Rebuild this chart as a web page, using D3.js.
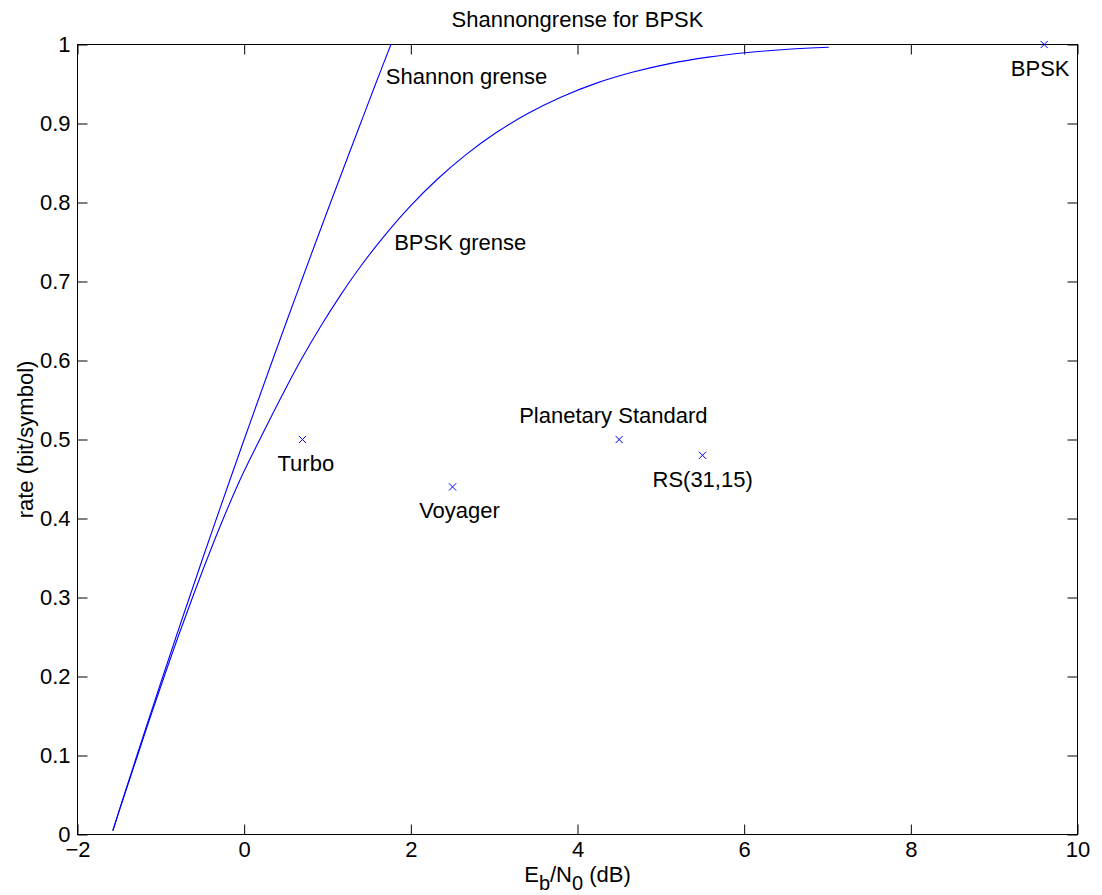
<!DOCTYPE html>
<html>
<head>
<meta charset="utf-8">
<script src="https://cdn.jsdelivr.net/npm/d3@7"></script>
<style>
  html, body { margin: 0; padding: 0; background: #fff; }
  svg { display: block; }
  text { font-family: "Liberation Sans", Arial, Helvetica, sans-serif; fill: #000; }
</style>
</head>
<body>
<svg id="chart" width="1102" height="895"></svg>
<script>
// Shannon limit for a real-valued channel: rate (bit/symbol) vs Eb/N0 (dB)
const shannonRate = [0.005, 0.05, 0.1, 0.15, 0.2, 0.25, 0.3, 0.35, 0.4, 0.45, 0.5,
                     0.55, 0.6, 0.65, 0.7, 0.75, 0.8, 0.85, 0.9, 0.95, 1.0];
const shannonEbN0 = [-1.577, -1.440, -1.287, -1.132, -0.976, -0.818, -0.657, -0.496, -0.332, -0.167, 0.0,
                     0.169, 0.339, 0.511, 0.685, 0.860, 1.037, 1.216, 1.396, 1.577, 1.761];

// BPSK-constrained capacity curve
const bpskRate = [0.005, 0.05, 0.1, 0.15, 0.2, 0.25, 0.3, 0.35, 0.4, 0.45, 0.5,
                  0.5634, 0.6032, 0.6431, 0.6828, 0.7218, 0.7594, 0.7954, 0.8291, 0.8600,
                  0.8879, 0.9124, 0.9333, 0.9508, 0.9648, 0.9758, 0.9840, 0.9899, 0.9939, 0.9965];
const bpskEbN0 = [-1.575, -1.437, -1.279, -1.122, -0.960, -0.794, -0.620, -0.440, -0.250, -0.045, 0.187,
                  0.492, 0.695, 0.917, 1.157, 1.416, 1.695, 1.994, 2.314, 2.655,
                  3.017, 3.398, 3.800, 4.219, 4.656, 5.106, 5.570, 6.044, 6.527, 7.015];

// Operating points of real codes
const codeNames = ["Turbo", "Voyager", "Planetary Standard", "RS(31,15)", "BPSK"];
const codeEbN0  = [0.7, 2.5, 4.5, 5.5, 9.6];
const codeRate  = [0.5, 0.44, 0.5, 0.48, 1.0];
// Label anchors (left edge, vertical middle) in data units
const codeLabelX = [0.4, 2.1, 3.3, 4.9, 9.2];
const codeLabelY = [0.47, 0.41, 0.53, 0.45, 0.97];

// Curve annotations
const curveLabels = ["Shannon grense", "BPSK grense"];
const curveLabelX = [1.7, 1.8];
const curveLabelY = [0.96, 0.75];

const xTicks = [-2, 0, 2, 4, 6, 8, 10];
const yTicks = [0, 0.1, 0.2, 0.3, 0.4, 0.5, 0.6, 0.7, 0.8, 0.9, 1];

const titleText = "Shannongrense for BPSK";
const yLabelText = "rate (bit/symbol)";

const svg = d3.select("#chart");
const plotL = 77.5, plotR = 1077.5, plotT = 44.5, plotB = 834.5;
const FS = 22;
const BLUE = "#0000ff";

const x = d3.scaleLinear().domain([-2, 10]).range([plotL, plotR]);
const y = d3.scaleLinear().domain([0, 1]).range([plotB, plotT]);

const fmtX = d => (d < 0 ? "\u2212" + Math.abs(d) : String(d));
const fmtY = d => String(+d.toFixed(1));

// Axes with inward ticks on all four sides
const tickLen = 10;
svg.append("g").attr("transform", `translate(0,${plotB})`)
  .call(d3.axisBottom(x).tickValues(xTicks).tickFormat(fmtX).tickSizeInner(-tickLen).tickSizeOuter(0).tickPadding(7))
  .call(g => g.select(".domain").remove());
svg.append("g").attr("transform", `translate(0,${plotT})`)
  .call(d3.axisTop(x).tickValues(xTicks).tickFormat("").tickSizeInner(-tickLen).tickSizeOuter(0))
  .call(g => g.select(".domain").remove());
svg.append("g").attr("transform", `translate(${plotL},0)`)
  .call(d3.axisLeft(y).tickValues(yTicks).tickFormat(fmtY).tickSizeInner(-tickLen).tickSizeOuter(0).tickPadding(7))
  .call(g => g.select(".domain").remove());
svg.append("g").attr("transform", `translate(${plotR},0)`)
  .call(d3.axisRight(y).tickValues(yTicks).tickFormat("").tickSizeInner(-tickLen).tickSizeOuter(0))
  .call(g => g.select(".domain").remove());

svg.selectAll(".tick line").attr("stroke", "#000").attr("stroke-width", 1);
svg.selectAll(".tick text").attr("font-size", FS).attr("font-family", "Liberation Sans, Arial, sans-serif").attr("fill", "#000");

// Plot box
svg.append("rect")
  .attr("x", plotL).attr("y", plotT)
  .attr("width", plotR - plotL).attr("height", plotB - plotT)
  .attr("fill", "none").attr("stroke", "#000").attr("stroke-width", 1);

// Curves
const line = d3.line().x(d => x(d[0])).y(d => y(d[1])).curve(d3.curveCatmullRom.alpha(0.5));
const shannonPts = shannonRate.map((r, i) => [shannonEbN0[i], r]);
const bpskPts = bpskRate.map((r, i) => [bpskEbN0[i], r]);

svg.append("path").datum(shannonPts).attr("d", line)
  .attr("fill", "none").attr("stroke", BLUE).attr("stroke-width", 1.1);
svg.append("path").datum(bpskPts).attr("d", line)
  .attr("fill", "none").attr("stroke", BLUE).attr("stroke-width", 1.1);

// Code markers (x)
const m = 3.6;
const marks = svg.append("g");
codeNames.forEach((name, i) => {
  const cx = x(codeEbN0[i]), cy = y(codeRate[i]);
  marks.append("path")
    .attr("d", `M${cx - m},${cy - m}L${cx + m},${cy + m}M${cx - m},${cy + m}L${cx + m},${cy - m}`)
    .attr("stroke", BLUE).attr("stroke-width", 1).attr("fill", "none");
  marks.append("text")
    .attr("x", x(codeLabelX[i])).attr("y", y(codeLabelY[i]))
    .attr("dominant-baseline", "central")
    .attr("font-size", FS)
    .text(name);
});

// Curve annotations
curveLabels.forEach((t, i) => {
  svg.append("text")
    .attr("x", x(curveLabelX[i])).attr("y", y(curveLabelY[i]))
    .attr("dominant-baseline", "central")
    .attr("font-size", FS)
    .text(t);
});

// Title
svg.append("text")
  .attr("x", (plotL + plotR) / 2).attr("y", 27)
  .attr("text-anchor", "middle").attr("font-size", FS)
  .text(titleText);

// X label: E_b/N_0 (dB)
const xl = svg.append("text")
  .attr("x", (plotL + plotR) / 2).attr("y", 882)
  .attr("text-anchor", "middle").attr("font-size", FS);
xl.append("tspan").text("E");
xl.append("tspan").attr("dy", 8).attr("font-size", 20).text("b");
xl.append("tspan").attr("dy", -8).text("/N");
xl.append("tspan").attr("dy", 8).attr("font-size", 20).text("0");
xl.append("tspan").attr("dy", -8).text(" (dB)");

// Y label
svg.append("text")
  .attr("transform", `translate(33,${(plotT + plotB) / 2}) rotate(-90)`)
  .attr("text-anchor", "middle").attr("font-size", FS)
  .text(yLabelText);
</script>
</body>
</html>
